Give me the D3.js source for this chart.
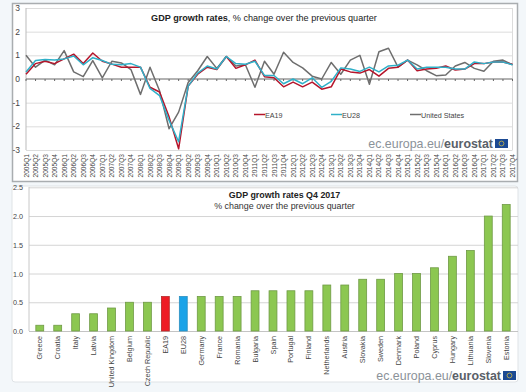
<!DOCTYPE html>
<html><head><meta charset="utf-8">
<script src="https://cdn.jsdelivr.net/npm/d3@7"></script>
<style>html,body{margin:0;padding:0;background:#f3f7fa}svg{display:block}text{font-family:"Liberation Sans",Arial,sans-serif}</style>
</head><body><svg id="c" width="526" height="392"></svg>
<script>
const years = ["2005","2006","2007","2008","2009","2010","2011","2012","2013","2014","2015","2016","2017"];
const quarters = years.flatMap(y => ["Q1","Q2","Q3","Q4"].map(q => y + q));
const ea19 = [0.2,0.65,0.75,0.65,0.85,1.05,0.65,1.1,0.75,0.63,0.5,0.5,0.5,-0.35,-0.55,-1.6,-2.95,-0.3,0.2,0.5,0.4,0.95,0.45,0.6,0.8,0.1,0.05,-0.33,-0.13,-0.33,-0.13,-0.43,-0.33,0.42,0.3,0.25,0.4,0.12,0.45,0.5,0.8,0.35,0.42,0.45,0.55,0.38,0.42,0.65,0.65,0.72,0.72,0.62];
const eu28 = [0.3,0.78,0.82,0.8,0.85,0.97,0.6,0.9,0.78,0.62,0.6,0.65,0.5,-0.4,-0.7,-1.75,-2.65,-0.3,0.25,0.55,0.42,0.95,0.65,0.62,0.75,0.15,0.15,-0.2,0,-0.2,0.05,-0.35,-0.1,0.47,0.42,0.32,0.5,0.3,0.55,0.58,0.8,0.42,0.5,0.5,0.5,0.42,0.42,0.72,0.65,0.72,0.72,0.6];
const us = [1.0,0.5,0.8,0.6,1.2,0.3,0.1,0.78,0.05,0.75,0.68,0.4,-0.65,0.5,-0.5,-2.1,-1.4,-0.15,0.35,0.95,0.45,0.95,0.55,0.6,-0.35,0.75,0.2,1.13,0.7,0.47,0.12,0,0.7,0.2,0.8,1.0,-0.22,1.15,1.3,0.5,0.8,0.6,0.35,0.14,0.17,0.55,0.7,0.45,0.33,0.75,0.8,0.6];
const seriesNames = ["EA19","EU28","United States"];
const seriesColors = ["#b5152b","#2fb0c8","#6e6e6e"];
const yTicksTop = [-3,-2,-1,0,1,2,3];

const countries = ["Greece","Croatia","Italy","Latvia","United Kingdom","Belgium","Czech Republic","EA19","EU28","Germany","France","Romania","Bulgaria","Spain","Portugal","Finland","Netherlands","Austria","Slovakia","Sweden","Denmark","Poland","Cyprus","Hungary","Lithuania","Slovenia","Estonia"];
const growth = [0.1,0.1,0.3,0.3,0.4,0.5,0.5,0.6,0.6,0.6,0.6,0.6,0.7,0.7,0.7,0.7,0.8,0.8,0.9,0.9,1.0,1.0,1.1,1.3,1.4,2.0,2.2];
const yTicksBottom = [0,0.5,1,1.5,2,2.5];

const svg = d3.select("#c");
const grey = "#a9adb0", gridC = "#dcdcdc", textC = "#444";

// panels
svg.append("rect").attr("x",12.5).attr("y",3.5).attr("width",505).attr("height",178).attr("fill","#fff").attr("stroke",grey).attr("stroke-width",1.5);
svg.append("rect").attr("x",12).attr("y",186).attr("width",506).attr("height",196).attr("rx",3).attr("fill","#fff").attr("stroke","#dfe3e6");

// top chart
const xT = d3.scalePoint().domain(quarters).range([26,512.5]);
const yT = d3.scaleLinear().domain([-3,3]).range([150,8]);
const gT = svg.append("g");
gT.selectAll("line.g").data(yTicksTop.filter(d=>d!==0)).join("line").attr("x1",26).attr("x2",512.5)
  .attr("y1",d=>yT(d)+.5).attr("y2",d=>yT(d)+.5).attr("stroke",gridC);
gT.append("line").attr("x1",26).attr("x2",26).attr("y1",8).attr("y2",150).attr("stroke","#bbb");
gT.append("line").attr("x1",512.5).attr("x2",512.5).attr("y1",8).attr("y2",150).attr("stroke",gridC);
gT.selectAll("text.y").data(yTicksTop).join("text").attr("x",20).attr("y",d=>yT(d)+3)
  .attr("text-anchor","end").attr("font-size",8.5).attr("fill",textC).text(d=>d);
gT.append("line").attr("x1",26).attr("x2",512.5).attr("y1",yT(0)).attr("y2",yT(0)).attr("stroke","#666").attr("stroke-width",1.2);
gT.selectAll("line.t").data(quarters).join("line").attr("x1",d=>xT(d)).attr("x2",d=>xT(d))
  .attr("y1",yT(0)).attr("y2",yT(0)+2).attr("stroke","#666");
gT.selectAll("text.x").data(quarters).join("text")
  .attr("transform",d=>`translate(${xT(d)+2.5},154) rotate(-90)`).attr("text-anchor","end")
  .attr("font-size",6.6).attr("fill",textC).text(d=>d);
const line = d3.line().x((d,i)=>xT(quarters[i])).y(d=>yT(d));
[us,ea19,eu28].forEach((s,k)=>{
  gT.append("path").attr("d",line(s)).attr("fill","none")
    .attr("stroke",[seriesColors[2],seriesColors[0],seriesColors[1]][k]).attr("stroke-width",1.5).attr("stroke-linejoin","round");
});
const title = gT.append("text").attr("x",264).attr("y",21).attr("text-anchor","middle").attr("font-size",9.1).attr("fill","#222");
title.append("tspan").attr("font-weight","bold").text("GDP growth rates");
title.append("tspan").text(", % change over the previous quarter");
const legX = [254,331,410];
seriesNames.forEach((n,i)=>{
  gT.append("line").attr("x1",legX[i]).attr("x2",legX[i]+11).attr("y1",114.5).attr("y2",114.5).attr("stroke",seriesColors[i]).attr("stroke-width",1.5);
  gT.append("text").attr("x",legX[i]+11).attr("y",117.5).attr("font-size",7.2).attr("fill",textC).text(n);
});

function brand(xRight, y){
  const t = svg.append("text").attr("x",xRight-15).attr("y",y).attr("text-anchor","end").attr("font-size",12.4).attr("fill","#8b9299");
  t.append("tspan").text("ec.europa.eu/");
  t.append("tspan").attr("font-weight","bold").attr("fill","#596068").text("eurostat");
  svg.append("rect").attr("x",xRight-13).attr("y",y-9).attr("width",13).attr("height",9).attr("fill","#1c4a93");
  svg.append("circle").attr("cx",xRight-6.5).attr("cy",y-4.5).attr("r",2.4).attr("fill","none").attr("stroke","#e3c53a").attr("stroke-width",.7);
}
brand(508,148);

// bottom chart
const xB = d3.scaleBand().domain(countries).range([30.8,515.2]).paddingInner(0.56).paddingOuter(0.28);
const yB = d3.scaleLinear().domain([0,2.5]).range([331,187.3]);
const gB = svg.append("g");
gB.selectAll("line.g").data(yTicksBottom).join("line").attr("x1",29).attr("x2",518)
  .attr("y1",d=>yB(d)+.5).attr("y2",d=>yB(d)+.5).attr("stroke",d=>d===0?"#c4c4c4":"#d4d4d4");
gB.append("line").attr("x1",29).attr("x2",29).attr("y1",187).attr("y2",331).attr("stroke","#c8c8c8");
gB.selectAll("text.y").data(yTicksBottom).join("text").attr("x",23).attr("y",d=>yB(d)+3)
  .attr("text-anchor","end").attr("font-size",7.2).attr("fill",textC).text(d=>d.toFixed(1));
gB.selectAll("rect.b").data(countries).join("rect")
  .attr("x",d=>xB(d)).attr("width",xB.bandwidth())
  .attr("y",(d,i)=>yB(growth[i])).attr("height",(d,i)=>yB(0)-yB(growth[i]))
  .attr("fill",d=>d==="EA19"?"#ee1c25":d==="EU28"?"#1aa3e8":"#8cc751")
  .attr("stroke",d=>d==="EA19"?"#b52a2a":d==="EU28"?"#2b8fc0":"#6f9a45").attr("stroke-width",.8);
gB.selectAll("text.x").data(countries).join("text")
  .attr("transform",d=>`translate(${xB(d)+xB.bandwidth()/2+2.5},336) rotate(-90)`).attr("text-anchor","end")
  .attr("font-size",7.2).attr("fill",textC).text(d=>d);
gB.append("text").attr("x",284.5).attr("y",198).attr("text-anchor","middle").attr("font-size",8.9).attr("font-weight","bold").attr("fill","#222").text("GDP growth rates Q4 2017");
gB.append("text").attr("x",284.5).attr("y",209).attr("text-anchor","middle").attr("font-size",8.9).attr("fill","#333").text("% change over the previous quarter");
brand(516,380);
</script></body></html>
